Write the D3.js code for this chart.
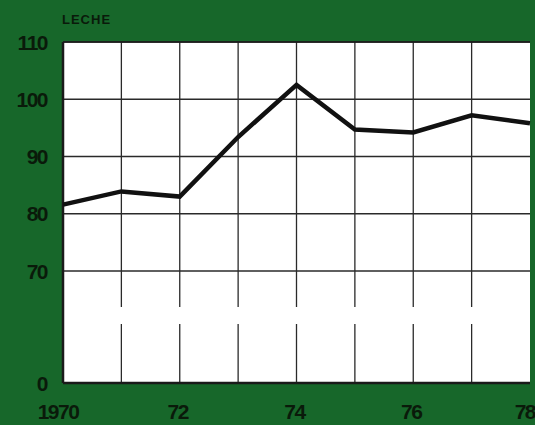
<!DOCTYPE html>
<html>
<head>
<meta charset="utf-8">
<script src="https://cdn.jsdelivr.net/npm/d3@7"></script>
<style>
  html, body { margin: 0; padding: 0; background: #17672a; }
  svg { display: block; }
  text { font-family: 'Liberation Sans', Arial, sans-serif; font-weight: bold; fill: #0a1a0a; }
</style>
</head>
<body>
<div id="chart"></div>
<script>
// leche, 1970-1978
const years = [1970, 1971, 1972, 1973, 1974, 1975, 1976, 1977, 1978]
const leche = [81.6, 83.9, 83.0, 93.4, 102.5, 94.7, 94.2, 97.2, 95.8]
const yTicks = [0, 70, 80, 90, 100, 110]
const xTickLabels = ['1970', '72', '74', '76', '78']

const width = 535
const height = 425
const plot = { left: 63, right: 530, top: 42, bottom: 383 }

const svg = d3.select('#chart')
  .append('svg')
  .attr('width', width)
  .attr('height', height)

svg.append('rect')
  .attr('width', width)
  .attr('height', height)
  .attr('fill', '#17672a')

// broken axis: 0..70 squeezed, 70..110 regular
const x = d3.scaleLinear().domain([1970, 1978]).range([plot.left, plot.right])
const y = d3.scaleLinear().domain([0, 70, 110]).range([plot.bottom, 271, plot.top])

svg.append('rect')
  .attr('x', plot.left)
  .attr('y', plot.top)
  .attr('width', plot.right - plot.left)
  .attr('height', plot.bottom - plot.top)
  .attr('fill', '#ffffff')

let grid = svg.append('g').attr('stroke', '#2a2a2a').attr('stroke-width', 1.3)

// horizontal lines
grid.selectAll('.h')
  .data(yTicks.filter(d => d > 0))
  .enter()
  .append('line')
  .attr('x1', plot.left)
  .attr('x2', plot.right)
  .attr('y1', d => y(d))
  .attr('y2', d => y(d))

// vertical lines, with the break gap
const gapTop = 307
const gapBottom = 324
grid.selectAll('.v1')
  .data(years.slice(1, -1))
  .enter()
  .append('line')
  .attr('x1', d => x(d))
  .attr('x2', d => x(d))
  .attr('y1', plot.top)
  .attr('y2', gapTop)
grid.selectAll('.v2')
  .data(years.slice(1, -1))
  .enter()
  .append('line')
  .attr('x1', d => x(d))
  .attr('x2', d => x(d))
  .attr('y1', gapBottom)
  .attr('y2', plot.bottom)

// frame: left and bottom heavier
svg.append('line')
  .attr('x1', plot.left).attr('x2', plot.left)
  .attr('y1', plot.top).attr('y2', plot.bottom)
  .attr('stroke', '#1a1a1a').attr('stroke-width', 2.5)
svg.append('line')
  .attr('x1', plot.left).attr('x2', plot.right)
  .attr('y1', plot.bottom).attr('y2', plot.bottom)
  .attr('stroke', '#1a1a1a').attr('stroke-width', 2.5)
svg.append('line')
  .attr('x1', plot.left).attr('x2', plot.right)
  .attr('y1', plot.top).attr('y2', plot.top)
  .attr('stroke', '#1a1a1a').attr('stroke-width', 1.5)

// data line
const line = d3.line()
  .x((d, i) => x(years[i]))
  .y(d => y(d))
svg.append('path')
  .datum(leche)
  .attr('d', line)
  .attr('fill', 'none')
  .attr('stroke', '#111111')
  .attr('stroke-width', 4.5)
  .attr('stroke-linejoin', 'miter')

// y labels
svg.selectAll('.ylab')
  .data(yTicks)
  .enter()
  .append('text')
  .attr('x', 47)
  .attr('y', d => y(d))
  .attr('dy', '0.36em')
  .attr('text-anchor', 'end')
  .style('font-size', '21px')
  .style('letter-spacing', '-1.5px')
  .text(d => d)

// x labels
const xLabelYears = [1970, 1972, 1974, 1976, 1978]
svg.selectAll('.xlab')
  .data(xTickLabels)
  .enter()
  .append('text')
  .attr('x', (d, i) => i === 4 ? width : x(xLabelYears[i]) - (i === 0 ? 5 : 2))
  .attr('y', 419)
  .attr('text-anchor', (d, i) => i === 4 ? 'end' : 'middle')
  .style('font-size', '21px')
  .style('letter-spacing', '-1.5px')
  .text(d => d)

svg.append('text')
  .attr('x', 62)
  .attr('y', 24)
  .style('font-size', '13px')
  .style('letter-spacing', '1px')
  .text('LECHE')
</script>
</body>
</html>
